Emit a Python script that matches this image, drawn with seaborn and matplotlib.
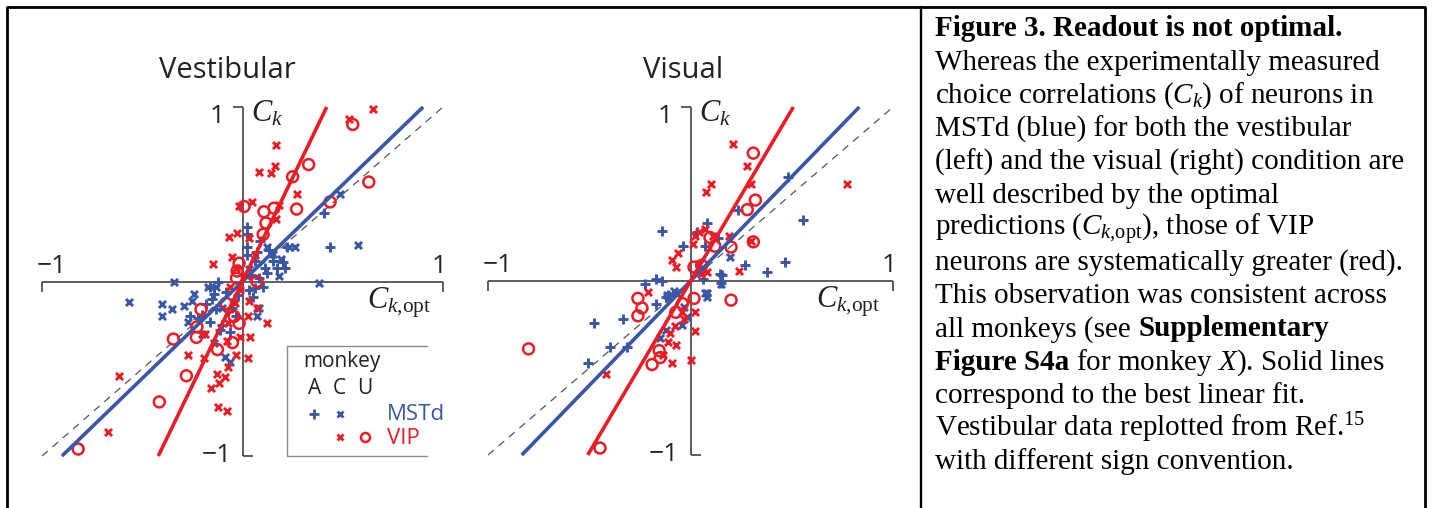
import matplotlib
matplotlib.use("Agg")
import numpy as np
import matplotlib.pyplot as plt
import seaborn as sns
from matplotlib.lines import Line2D

sns.set_theme(style="white")
plt.rcParams["font.family"] = ["Open Sans", "DejaVu Sans"]
plt.rcParams["mathtext.fontset"] = "custom"
plt.rcParams["mathtext.rm"] = "Liberation Serif"
plt.rcParams["mathtext.it"] = "Liberation Serif:italic"
plt.rcParams["mathtext.bf"] = "Liberation Serif:bold"

BLUE = "#3a56a6"
RED = "#ec1c24"
AXC = "#333333"

# ---------------- Vestibular condition ----------------
# MSTd, monkey A (+)
ves_mstd_a_x = [0.022, 0.02, 0.02, 0.02, 0.087, 0.07, 0.13, 0.437, 0.405, 0.22, 0.20, 0.21,
                0.17, 0.11, 0.06, 0.04, 0.10, 0.05, 0.03, -0.12, -0.16, -0.14, -0.15, -0.18,
                -0.08, -0.16, -0.10, -0.26, -0.06, -0.20, -0.13, -0.05, -0.02, 0.08, 0.15,
                0.12, -0.22, -0.11, -0.03, 0.06]
ves_mstd_a_y = [0.31, 0.27, 0.20, 0.15, 0.23, 0.17, 0.18, 0.20, 0.39, 0.20, 0.11, 0.08,
                0.08, 0.08, 0.12, 0.04, -0.03, -0.09, -0.05, 0.0, -0.03, -0.07, -0.10, -0.13,
                -0.06, -0.23, -0.25, -0.20, -0.29, -0.19, -0.16, -0.15, -0.08, 0.02, 0.12,
                0.05, -0.21, -0.28, -0.20, -0.04]
# MSTd, monkey C (x)
ves_mstd_c_x = [-0.34, 0.38, 0.23, 0.18, -0.24, -0.25, -0.29, -0.40, -0.35, -0.40, -0.565,
                0.08, 0.07, -0.10, 0.485, 0.575, -0.085, -0.06, -0.17, -0.13, 0.19, 0.15,
                -0.04, -0.20, -0.14, 0.03, 0.26, -0.27, 0.12]
ves_mstd_c_y = [0.0, -0.01, 0.20, 0.03, -0.07, -0.11, -0.14, -0.13, -0.16, -0.20, -0.12,
                -0.15, -0.20, -0.15, 0.50, 0.21, -0.43, -0.46, -0.03, -0.03, 0.13, 0.16,
                -0.12, -0.30, -0.35, 0.07, 0.20, -0.23, 0.20]
# VIP, monkey C (x)
ves_vip_c_x = [0.65, 0.53, 0.167, 0.162, 0.14, 0.08, 0.27, 0.046, -0.017, 0.18, 0.167,
               -0.067, -0.027, 0.033, -0.147, -0.062, -0.037, 0.03, 0.072, 0.027, 0.12,
               -0.072, -0.012, 0.035, -0.187, -0.075, -0.27, -0.19, -0.03, 0.025, -0.07,
               -0.125, -0.085, -0.115, -0.155, -0.12, -0.075, -0.615, -0.67, -0.03, -0.05,
               0.02, -0.01, 0.06]
ves_vip_c_y = [0.99, 0.93, 0.78, 0.66, 0.62, 0.63, 0.50, 0.457, 0.43, 0.44, 0.36,
               0.255, 0.28, 0.25, 0.10, -0.03, -0.125, -0.11, -0.15, -0.20, -0.24,
               -0.24, -0.32, -0.32, -0.30, -0.34, -0.42, -0.44, -0.42, -0.44, -0.49,
               -0.53, -0.55, -0.58, -0.61, -0.72, -0.74, -0.54, -0.86, 0.08, 0.14,
               0.03, -0.05, 0.15]
# VIP, monkey U (o)
ves_vip_u_x = [0.55, 0.33, 0.25, 0.63, 0.437, 0.27, 0.157, 0.107, 0.008, 0.117, 0.103,
               -0.017, -0.027, 0.072, -0.03, -0.207, -0.082, -0.042, -0.017, -0.227, -0.23,
               -0.345, -0.05, -0.125, -0.28, -0.415, -0.82]
ves_vip_u_y = [0.90, 0.67, 0.60, 0.57, 0.456, 0.415, 0.42, 0.40, 0.43, 0.335, 0.27,
               0.105, 0.06, 0.0, 0.02, -0.16, -0.125, -0.20, -0.24, -0.26, -0.32,
               -0.33, -0.35, -0.39, -0.54, -0.69, -0.96]

# ---------------- Visual condition ----------------
vis_mstd_a_x = [0.235, -0.14, 0.08, 0.03, 0.136, -0.037, 0.072, 0.27, 0.376, 0.146, 0.15,
                0.06, -0.225, -0.17, -0.14, -0.335, -0.476, -0.17, -0.12, -0.40, -0.315,
                -0.506, -0.11, 0.48, 0.556, 0.467, 0.154]
vis_mstd_a_y = [0.41, 0.29, 0.335, 0.28, 0.25, 0.20, 0.20, 0.09, 0.05, 0.04, -0.01,
                0.01, -0.02, 0.01, 0.0, -0.22, -0.24, -0.13, -0.09, -0.38, -0.38,
                -0.47, -0.08, 0.60, 0.35, 0.11, 0.034]
vis_mstd_c_x = [0.195, 0.072, 0.08, 0.15, -0.116, -0.08, -0.04, -0.02, -0.12, -0.15,
                -0.07, 0.08, -0.03, 0.04]
vis_mstd_c_y = [0.14, -0.07, -0.09, -0.02, -0.08, -0.06, -0.25, -0.205, -0.28, -0.33,
                -0.07, -0.07, -0.15, 0.10]
vis_vip_c_x = [0.21, 0.28, 0.30, 0.10, 0.075, 0.19, 0.24, 0.30, 0.11, 0.07, 0.04, 0.02,
               0.01, -0.06, -0.09, -0.07, -0.21, 0.08, 0.775, 0.02, 0.02, -0.04, -0.077,
               -0.10, -0.07, -0.11, -0.135, -0.093, 0.0, -0.42, -0.03, 0.05]
vis_vip_c_y = [0.79, 0.66, 0.56, 0.56, 0.51, 0.26, 0.06, 0.23, 0.26, 0.30, 0.28, 0.26,
               0.21, 0.16, 0.12, 0.08, -0.065, 0.05, 0.557, -0.29, -0.18, -0.18, -0.26,
               -0.30, -0.37, -0.35, -0.425, -0.47, -0.455, -0.535, -0.22, 0.04]
vis_vip_u_x = [0.31, 0.32, 0.28, 0.31, 0.20, 0.12, 0.096, 0.017, 0.055, 0.20, 0.017,
               -0.26, -0.24, -0.26, -0.04, -0.073, -0.155, -0.15, -0.19, -0.80, -0.447]
vis_vip_u_y = [0.735, 0.465, 0.41, 0.225, 0.195, 0.20, 0.25, 0.08, 0.09, -0.11, -0.10,
               -0.10, -0.155, -0.20, -0.13, -0.18, -0.40, -0.44, -0.48, -0.39, -0.96]

# slopes of the best linear fits (through the origin)
ves_fit_slopes = {"MSTd": 1.11, "VIP": 2.38}
vis_fit_slopes = {"MSTd": 1.20, "VIP": 1.97}

# caption: each line is a list of (text, weight) runs separated by a space
caption_lines = [
    [("Figure 3. Readout is not optimal.", "bold")],
    [("Whereas the experimentally measured", "normal")],
    [(r"choice correlations ($C_k$) of neurons in", "normal")],
    [("MSTd (blue) for both the vestibular", "normal")],
    [("(left) and the visual (right) condition are", "normal")],
    [("well described by the optimal", "normal")],
    [(r"predictions ($C_{k{,}\mathrm{opt}}$), those of VIP", "normal")],
    [("neurons are systematically greater (red).", "normal")],
    [("This observation was consistent across", "normal")],
    [("all monkeys (see", "normal"), ("Supplementary", "bold")],
    [("Figure S4a", "bold"), (r"for monkey $X$). Solid lines", "normal")],
    [("correspond to the best linear fit.", "normal")],
    [(r"Vestibular data replotted from Ref.$^{15}$", "normal")],
    [("with different sign convention.", "normal")],
]

W, H = 1432, 508
fig = plt.figure(figsize=(W / 100, H / 100), dpi=100)
fig.patch.set_facecolor("white")


def px_rect(left, top, right, bottom):
    return [left / W, 1 - bottom / H, (right - left) / W, (bottom - top) / H]


XL = (-1.1, 1.1)
YL = (-1.15, 1.15)
ax_ves = fig.add_axes(px_rect(22.0, 80.8, 463.0, 482.2))
ax_vis = fig.add_axes(px_rect(467.8, 80.9, 913.3, 481.1))

PLUS = dict(marker="+", s=46, linewidth=2.1)
CROSS = dict(marker="x", s=26, linewidth=2.1)
RING = dict(marker="o", s=62, linewidth=1.8, facecolor="none")


def draw_panel(ax, mstd_a, mstd_c, vip_c, vip_u, slopes):
    ax.set_xlim(*XL)
    ax.set_ylim(*YL)
    ax.axis("off")
    ax.patch.set_alpha(0)
    kw = dict(color=AXC, lw=1.1, zorder=1, clip_on=False, solid_capstyle="butt")
    ax.plot([-1, 1], [0, 0], **kw)
    ax.plot([-1, -1], [0, -0.06], **kw)
    ax.plot([1, 1], [0, -0.06], **kw)
    ax.plot([0, 0], [-1, 1], **kw)
    ax.plot([-0.045, 0], [1, 1], **kw)
    ax.plot([0, 0.05], [-1, -1], **kw)
    # identity line
    ax.plot([-1, 1], [-1, 1], color="#555555", lw=0.9, ls=(0, (6, 5)), zorder=2)

    sns.scatterplot(x=mstd_a[0], y=mstd_a[1], ax=ax, color=BLUE, zorder=3, **PLUS)
    sns.scatterplot(x=mstd_c[0], y=mstd_c[1], ax=ax, color=BLUE, zorder=3, **CROSS)
    sns.scatterplot(x=vip_c[0], y=vip_c[1], ax=ax, color=RED, zorder=4, **CROSS)
    sns.scatterplot(x=vip_u[0], y=vip_u[1], ax=ax, color=RED, edgecolor=RED, zorder=4, **RING)

    for name, col in (("MSTd", BLUE), ("VIP", RED)):
        s = slopes[name]
        xs = np.array([-1 / s, 1 / s])
        sns.lineplot(x=xs, y=s * xs, ax=ax, color=col, lw=2.6, zorder=5,
                     solid_capstyle="butt")

    tk = dict(fontsize=19, color="#222222", ha="center", va="baseline")
    ax.text(-0.125, 0.91, "1", **tk)
    ax.text(-0.13, -1.035, "\u22121", **tk)
    ax.text(-0.95, 0.05, "\u22121", **tk)
    ax.text(0.98, 0.05, "1", **tk)
    lab = dict(fontsize=22, color="#222222", ha="left", va="baseline")
    ax.text(0.042, 0.914, r"$C_k$", **lab)
    ax.text(0.62, -0.152, r"$C_{k{,}\mathrm{opt}}$", **lab)


draw_panel(ax_ves, (ves_mstd_a_x, ves_mstd_a_y), (ves_mstd_c_x, ves_mstd_c_y),
           (ves_vip_c_x, ves_vip_c_y), (ves_vip_u_x, ves_vip_u_y), ves_fit_slopes)
draw_panel(ax_vis, (vis_mstd_a_x, vis_mstd_a_y), (vis_mstd_c_x, vis_mstd_c_y),
           (vis_vip_c_x, vis_vip_c_y), (vis_vip_u_x, vis_vip_u_y), vis_fit_slopes)


def fx(px):
    return px / W


def fy(py):
    return 1 - py / H


# panel titles
fig.text(fx(227), fy(78), "Vestibular", fontsize=21, ha="center", va="baseline", color="#222222")
fig.text(fx(683), fy(78), "Visual", fontsize=21, ha="center", va="baseline", color="#222222")

# legend box (open on the right)
lg = dict(color="#8c8c8c", lw=1.0, transform=fig.transFigure)
fig.add_artist(Line2D([fx(427), fx(287), fx(287), fx(427)], [fy(346), fy(346), fy(456), fy(456)], **lg))
fig.text(fx(303), fy(361), "monkey", fontsize=15, ha="left", va="center", color="#222222")
for letter, xp in (("A", 315), ("C", 339), ("U", 365)):
    fig.text(fx(xp), fy(389), letter, fontsize=15, ha="center", va="center", color="#222222")
mk = dict(transform=fig.transFigure, linestyle="none")
fig.add_artist(Line2D([fx(314)], [fy(414)], marker="+", ms=6.5, mew=2.0, color=BLUE, **mk))
fig.add_artist(Line2D([fx(340)], [fy(414)], marker="x", ms=4.2, mew=2.0, color=BLUE, **mk))
fig.add_artist(Line2D([fx(340)], [fy(437)], marker="x", ms=4.2, mew=2.0, color=RED, **mk))
fig.add_artist(Line2D([fx(365)], [fy(437)], marker="o", ms=6.5, mew=1.8, mfc="none", mec=RED, **mk))
fig.text(fx(387), fy(415), "MSTd", fontsize=16, ha="left", va="center", color=BLUE)
fig.text(fx(387), fy(438), "VIP", fontsize=16, ha="left", va="center", color=RED)

# frame and divider
fr = dict(color="black", lw=2.0, transform=fig.transFigure, solid_capstyle="projecting")
fig.add_artist(Line2D([fx(7), fx(7), fx(1424.7), fx(1424.7)], [fy(508), fy(7.3), fy(7.3), fy(508)], **fr))
fig.add_artist(Line2D([fx(920.7), fx(920.7)], [fy(7.3), fy(508)], color="black", lw=1.7,
                      transform=fig.transFigure))

# caption, laid out run by run
renderer = fig.canvas.get_renderer()
CAP = dict(fontsize=21, family="Liberation Serif", ha="left", va="baseline", color="black")


def run_width(s, weight):
    t = fig.text(0, 0, s, fontweight=weight, **CAP)
    w = t.get_window_extent(renderer).width
    t.remove()
    return w


space_w = run_width("n n", "normal") - run_width("nn", "normal")
for i, runs in enumerate(caption_lines):
    xpix = 935.0
    ypix = 36.5 + 33.3 * i
    for s, weight in runs:
        t = fig.text(fx(xpix), fy(ypix), s, fontweight=weight, **CAP)
        xpix += t.get_window_extent(renderer).width + space_w

fig.savefig("out.png", dpi=100, facecolor="white")
